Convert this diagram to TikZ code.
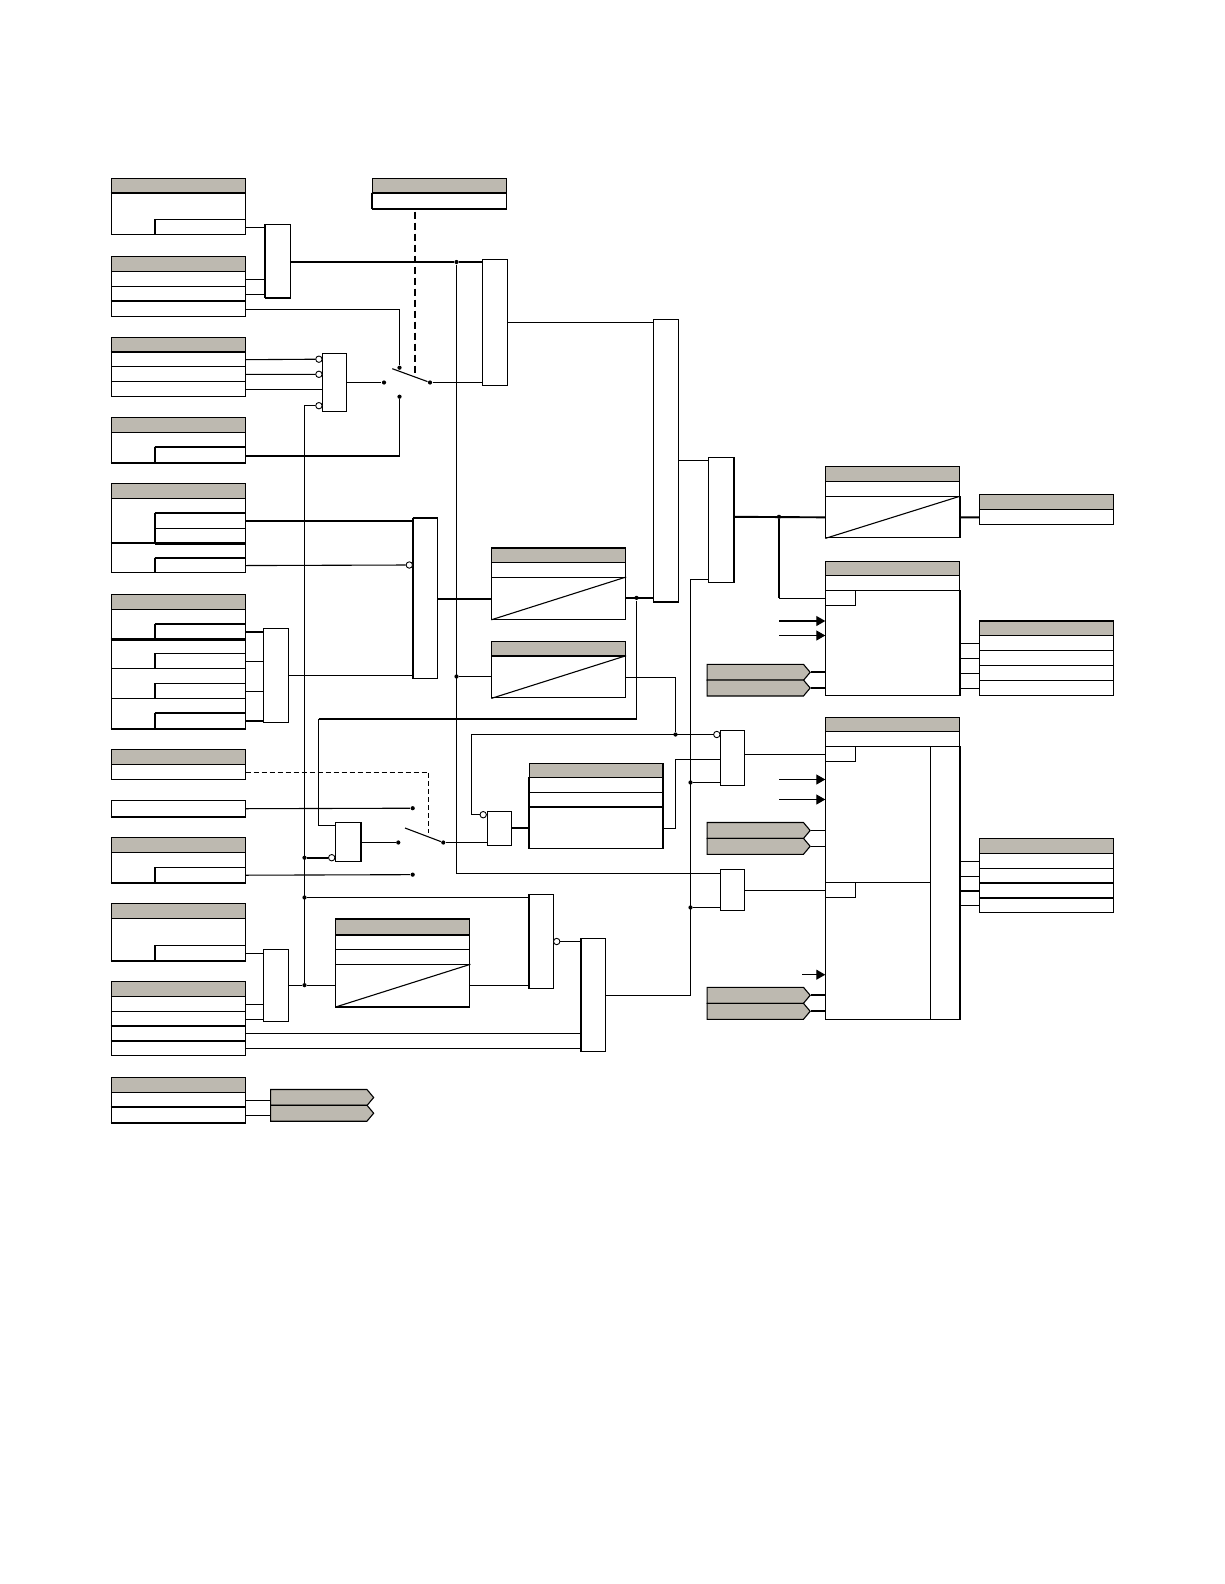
\documentclass[tikz,border=0pt]{standalone}
\usepackage{tikz}
\usetikzlibrary{arrows.meta, shapes.symbols}
\definecolor{hdrgray}{RGB}{189,185,176}

\begin{document}
\begin{tikzpicture}[
    x=1bp, y=-1bp,
    line width=1.1bp,
    cell/.style 2 args={draw, fill=white, anchor=north west, inner sep=0pt, minimum width=#1bp, minimum height=#2bp},
    hdr/.style 2 args={cell={#1}{#2}, fill=hdrgray},
    gate/.style 2 args={cell={#1}{#2}},
    tagbox/.style={draw, fill=hdrgray, shape=signal, signal to=east, signal pointer angle=100, inner sep=0pt, minimum width=103bp, minimum height=16bp},
    dot/.style={circle, fill=black, inner sep=0pt, minimum size=4.2bp},
    bub/.style={circle, draw, fill=white, line width=0.9bp, inner sep=0pt, minimum size=6.4bp},
    thk/.style={line width=1.9bp},
    inarr/.style={-{Triangle[length=9bp,width=10bp]}}
]
\useasboundingbox (0,0) rectangle (1224,1584);

% Left column tables
\node[hdr={134}{14.4}] (t1h) at (110.5,178.3) {};
\node[cell={134}{41.6}] (t1b) at (110.5,192.7) {};
\node[cell={90}{15}] (t1s) at (154.5,219.3) {};

\node[hdr={134}{15}] (t2h) at (110.5,256.3) {};
\node[cell={134}{15}] (t2a) at (110.5,271.3) {};
\node[cell={134}{14.7}] (t2b) at (110.5,286.3) {};
\node[cell={134}{15.3}] (t2c) at (110.5,301) {};

\node[hdr={134}{14.7}] (t3h) at (110.5,337.3) {};
\node[cell={134}{14.3}] (t3a) at (110.5,352) {};
\node[cell={134}{15}] (t3b) at (110.5,366.3) {};
\node[cell={134}{15}] (t3c) at (110.5,381.3) {};

\node[hdr={134}{15}] (t4h) at (110.5,417.3) {};
\node[cell={134}{29.7}] (t4b) at (110.5,432.3) {};
\node[cell={90}{15.3}] (t4s) at (154.5,446.7) {};

\node[hdr={134}{15}] (t5h) at (110.5,483.3) {};
\node[cell={134}{44.4}] (t5b) at (110.5,498.3) {};
\node[cell={90}{15}] (t5s) at (154.5,513.3) {};
\node[cell={90}{14.4}] (t5t) at (154.5,528.3) {};
\node[cell={134}{29.6}] (t5c) at (110.5,542.7) {};
\node[cell={90}{14.6}] (t5u) at (154.5,557.7) {};

\node[hdr={134}{15}] (t6h) at (110.5,594.3) {};
\node[cell={134}{29.7}] (t6a) at (110.5,609.3) {};
\node[cell={90}{15}] (t6p) at (154.5,624) {};
\node[cell={134}{29.3}] (t6b) at (110.5,639) {};
\node[cell={90}{15}] (t6q) at (154.5,653.3) {};
\node[cell={134}{30}] (t6c) at (110.5,668.3) {};
\node[cell={90}{15}] (t6r) at (154.5,683.3) {};
\node[cell={134}{29.4}] (t6d) at (110.5,698.3) {};
\node[cell={90}{14.7}] (t6s) at (154.5,713) {};

\node[hdr={134}{15}] (t7h) at (110.5,749.3) {};
\node[cell={134}{15}] (t7a) at (110.5,764.3) {};

\node[cell={134}{15.7}] (t8a) at (110.5,800.3) {};

\node[hdr={134}{15}] (t9h) at (110.5,837.3) {};
\node[cell={134}{29.7}] (t9b) at (110.5,852.3) {};
\node[cell={90}{14.7}] (t9s) at (154.5,867.3) {};

\node[hdr={134}{15}] (t10h) at (110.5,903.3) {};
\node[cell={134}{41.7}] (t10b) at (110.5,918.3) {};
\node[cell={90}{14.7}] (t10s) at (154.5,945.3) {};

\node[hdr={134}{15}] (t11h) at (110.5,981.3) {};
\node[cell={134}{15}] (t11a) at (110.5,996.3) {};
\node[cell={134}{14.7}] (t11b) at (110.5,1011.3) {};
\node[cell={134}{14.7}] (t11c) at (110.5,1026) {};
\node[cell={134}{14.6}] (t11d) at (110.5,1040.7) {};

\node[hdr={134}{15}] (t12h) at (110.5,1077.3) {};
\node[cell={134}{14.7}] (t12a) at (110.5,1092.3) {};
\node[cell={134}{15}] (t12b) at (110.5,1107) {};

% Middle tables
\node[hdr={134}{14.4}] (t0h) at (371.5,178.3) {};
\node[cell={134}{15.3}] (t0a) at (371.5,192.7) {};

\node[hdr={133.7}{14.6}] (t16h) at (491.3,547.7) {};
\node[cell={133.7}{14.7}] (t16a) at (491.3,562.3) {};
\node[cell={133.7}{41.7}] (t16b) at (491.3,577) {};

\node[hdr={133.7}{14.4}] (t15h) at (491.3,641.3) {};
\node[cell={133.7}{41.6}] (t15b) at (491.3,655.7) {};

\node[hdr={133.7}{14.6}] (t14h) at (528.7,762.7) {};
\node[cell={133.7}{15}] (t14a) at (528.7,777.3) {};
\node[cell={133.7}{14.7}] (t14b) at (528.7,792.3) {};
\node[cell={133.7}{41.3}] (t14c) at (528.7,807) {};

\node[hdr={134}{15.4}] (t13h) at (335.3,919.3) {};
\node[cell={134}{14.6}] (t13a) at (335.3,934.7) {};
\node[cell={134}{15}] (t13b) at (335.3,949.3) {};
\node[cell={134}{41.7}] (t13c) at (335.3,964.3) {};

% Right tables
\node[hdr={133.4}{15}] (t17h) at (825.3,466.3) {};
\node[cell={133.4}{15}] (t17a) at (825.3,481.3) {};
\node[cell={133.4}{41}] (t17b) at (825.3,496.3) {};

\node[hdr={133.7}{15}] (t18h) at (979.3,494.3) {};
\node[cell={133.7}{15}] (t18a) at (979.3,509.3) {};

\node[hdr={133.4}{14.6}] (t19h) at (825.3,560.7) {};
\node[cell={133.4}{15}] (t19a) at (825.3,575.3) {};
\node[cell={133.4}{105}] (t19b) at (825.3,590.3) {};
\node[cell={30}{15}] (t19s) at (825.3,590.3) {};

\node[hdr={133.7}{14.3}] (t20h) at (979.3,621) {};
\node[cell={133.7}{15}] (t20a) at (979.3,635.3) {};
\node[cell={133.7}{15}] (t20b) at (979.3,650.3) {};
\node[cell={133.7}{15}] (t20c) at (979.3,665.3) {};
\node[cell={133.7}{15}] (t20d) at (979.3,680.3) {};

\node[hdr={133.4}{14.6}] (t21h) at (825.3,716.7) {};
\node[cell={133.4}{15}] (t21a) at (825.3,731.3) {};
\node[cell={105}{136}] (t21b) at (825.3,746.3) {};
\node[cell={105}{137}] (t21c) at (825.3,882.3) {};
\node[cell={28.4}{273}] (t21d) at (930.3,746.3) {};
\node[cell={30}{15}] (t21s) at (825.3,746.3) {};
\node[cell={30}{15}] (t21u) at (825.3,882.3) {};

\node[hdr={133.7}{15}] (t22h) at (979.3,838.3) {};
\node[cell={133.7}{15}] (t22a) at (979.3,853.3) {};
\node[cell={133.7}{14.7}] (t22b) at (979.3,868.3) {};
\node[cell={133.7}{14.7}] (t22c) at (979.3,883) {};
\node[cell={133.7}{14.6}] (t22d) at (979.3,897.7) {};

% Gates
\node[gate={25}{72.7}] (g1) at (264.7,224.3) {};
\node[gate={24.4}{126}] (g2) at (482.3,259.3) {};
\node[gate={23.4}{58}] (g3) at (322.3,353.3) {};
\node[gate={24.6}{160.6}] (g4) at (412.7,517.7) {};
\node[gate={24.4}{94.6}] (g5) at (263.3,627.7) {};
\node[gate={25}{39}] (g6) at (335.3,822.3) {};
\node[gate={24.6}{34.3}] (g7) at (486.7,810.7) {};
\node[gate={24.4}{72.6}] (g8) at (263.3,948.7) {};
\node[gate={24.6}{94}] (g9) at (528.7,894.3) {};
\node[gate={24.6}{113}] (g10) at (580.7,938.3) {};
\node[gate={23.4}{55.3}] (g11) at (720.3,729.7) {};
\node[gate={23.4}{41}] (g12) at (720.3,869.3) {};
\node[gate={25}{125}] (g13) at (708.3,457.3) {};
\node[gate={24.4}{281.6}] (g14) at (653.3,319.1) {};

% Tags
\node[tagbox] (tg1) at (318.8,1097.5) {};
\node[tagbox] (tg2) at (318.8,1113.2) {};
\node[tagbox] (tg3) at (755.3,672.3) {};
\node[tagbox] (tg4) at (755.3,688) {};
\node[tagbox] (tg5) at (755.3,830.5) {};
\node[tagbox] (tg6) at (755.3,846.3) {};
\node[tagbox] (tg7) at (755.3,995.3) {};
\node[tagbox] (tg8) at (755.3,1011.3) {};

% Heavier edges
\foreach \n in {t1b,t2c,t3a,t4s,t5s,t5c,t5u,t6p,t6b,t6s,t11c,t11d,t12b,t14c,t15b,t13h,t13a,t16h,t20h,t22c,t22d,t0a,g4}
    \draw[thk] (\n.north west) -- (\n.north east);
\foreach \n in {t4b,t5t,t6a,t6d,t8a,t9b,t10b,t12b,t13c,g1,g14,t0a}
    \draw[thk] (\n.south west) -- (\n.south east);
\foreach \n in {g1,t1s,t4s,t5s,t5t,t5u,t6p,t6q,t6r,t6s,t9s,t10s,g4,g9,g10,t14a,t14b,t14c,t0a}
    \draw[thk] (\n.north west) -- (\n.south west);
\foreach \n in {g13,g6,t21d,t17b,t19b}
    \draw[thk] (\n.north east) -- (\n.south east);

% Diagonals
\draw (t16b.south west) -- (t16b.north east);
\draw (t15b.south west) -- (t15b.north east);
\draw (t13c.south west) -- (t13c.north east);
\draw (t17b.south west) -- (t17b.north east);

% Junctions and switch contacts
\node[dot] (jA) at (456.5,262) {};
\node[dot] (jB) at (456.5,676.5) {};
\node[dot] (jC) at (304.5,857.7) {};
\node[dot] (jD) at (304.5,897.5) {};
\node[dot] (jE) at (304.5,985.15) {};
\node[dot] (jF) at (636.5,597.85) {};
\node[dot] (jG) at (675.5,734.5) {};
\node[dot] (jH) at (690.5,782.5) {};
\node[dot] (jI) at (690.5,907.5) {};
\node[dot] (jJ) at (779,516.8) {};
\node[dot] (sA) at (399.5,367.7) {};
\node[dot] (sB) at (399.5,396.7) {};
\node[dot] (sC) at (384,382.5) {};
\node[dot] (sD) at (430,382.5) {};
\node[dot] (uA) at (412.7,808.2) {};
\node[dot] (uB) at (412.7,874.65) {};
\node[dot] (uC) at (398.3,842.5) {};
\node[dot] (uD) at (443.3,842.5) {};

% Bubbles
\node[bub] (b3a) at (318.9,359.2) {};
\node[bub] (b3b) at (318.9,374.3) {};
\node[bub] (b3c) at (318.9,405.7) {};
\node[bub] (b4) at (409.3,565) {};
\node[bub] (b6) at (331.7,857.7) {};
\node[bub] (b7) at (483.2,814.7) {};
\node[bub] (b9) at (556.7,941.5) {};
\node[bub] (b11) at (716.8,734.5) {};

% Free ends and bends
\coordinate (dd1) at (415,211.7);
\coordinate (dd2) at (415,375);
\coordinate (dd3) at (428.5,833.3);
\coordinate (lev1) at (392.3,368.7);
\coordinate (lev2) at (405,828);
\coordinate (k4) at (399.5,455.7);
\coordinate (k6) at (335.3,825.5);
\coordinate (k6b) at (318.5,718.7);
\coordinate (k7) at (471.5,734.5);
\coordinate (k10) at (675.5,759.5);
\coordinate (k12) at (720.3,873.5);
\coordinate (k13) at (690.5,579.5);
\coordinate (k14) at (708.3,460.5);
\coordinate (k15) at (653.3,322.5);
\coordinate (a1) at (779,621);
\coordinate (a2) at (779,635.5);
\coordinate (a3) at (779,779.5);
\coordinate (a4) at (779,799.5);
\coordinate (a5) at (802.3,974.7);

% Connectors, upper left
\draw (t1s.east) -- (t1s.east -| g1.west);
\draw (t2a.east) -- (t2a.east -| g1.west);
\draw (t2b.east) -- (t2b.east -| g1.west);
\draw[thk] (jA -| g1.east) -- (jA) -- (jA -| g2.west);
\draw[thk, dashed, dash pattern=on 7bp off 4bp] (dd1) -- (dd2);
\draw (t2c.east) -| (sA);
\draw (t3a.east) -- (b3a);
\draw (t3b.east) -- (b3b);
\draw (t3c.east) -- (t3c.east -| g3.west);
\draw (b3c) -| (jE);
\draw (sC -| g3.east) -- (sC);
\draw (lev1) -- (sD);
\draw (sD) -- (sD -| g2.west);
\draw[thk] (k4 -| t4s.east) -- (k4);
\draw (k4) -- (sB);
\draw (k15 -| g2.east) -- (k15);
\draw (jA) |- (k12);
\draw (jB) -- (jB -| t15b.west);

% Connectors, middle
\draw[thk] (t5s.east) -- (t5s.east -| g4.west);
\draw (t5u.east) -- (b4);
\draw[thk] (t6p.east) -- (t6p.east -| g5.west);
\draw (t6q.east) -- (t6q.east -| g5.west);
\draw (t6r.east) -- (t6r.east -| g5.west);
\draw[thk] (t6s.east) -- (t6s.east -| g5.west);
\draw (g5.east) -- (g5.east -| g4.west);
\draw[thk] (g4.east) -- (g4.east -| t16b.west);
\draw[thk] (t16b.east) -- (t16b.east -| g14.west);
\draw[thk] (k6b -| jF) -- (k6b);
\draw (jF) -- (k6b -| jF);
\draw (k6b) |- (k6);
\draw (t15b.east) -| (jG);
\draw[dashed, dash pattern=on 5bp off 3bp] (t7a.east) -| (dd3);
\draw (t8a.east) -- (uA);
\draw (t9s.east) -- (uB);
\draw[thk] (jC) -- (b6);
\draw (uC -| g6.east) -- (uC);
\draw (lev2) -- (uD);
\draw (uD) -- (uD -| g7.west);
\draw (b7) -| (k7) -- (b11);
\draw[thk] (g7.east) -- (g7.east -| t14c.west);
\draw (t14c.east) -| (k10) -- (k10 -| g11.west);
\draw (jD) -- (jD -| g9.west);

% Connectors, lower left
\draw (t10s.east) -- (t10s.east -| g8.west);
\draw (t11a.east) -- (t11a.east -| g8.west);
\draw (t11b.east) -- (t11b.east -| g8.west);
\draw (jE -| g8.east) -- (jE) -- (jE -| t13c.west);
\draw (t13c.east) -- (t13c.east -| g9.west);
\draw (b9) -- (b9 -| g10.west);
\draw (t11c.east) -- (t11c.east -| g10.west);
\draw (t11d.east) -- (t11d.east -| g10.west);
\draw (t12a.east) -- (t12a.east -| tg1.west);
\draw (t12b.east) -- (t12b.east -| tg2.west);

% Connectors, right
\draw (g10.east) -| (k13) -- (k13 -| g13.west);
\draw (jH) -- (jH -| g11.west);
\draw (jI) -- (jI -| g12.west);
\draw (k14 -| g14.east) -- (k14);
\draw[thk] (jJ -| g13.east) -- (t17b.west);
\draw[thk] (t17b.east) -- (t18a.west);
\draw[thk] (jJ) -- (jJ |- t19s.west);
\draw (jJ |- t19s.west) -- (t19s.west);
\draw (t21s.west -| g11.east) -- (t21s.west);
\draw (t21u.west -| g12.east) -- (t21u.west);
\draw[thk] (tg3.east) -- (tg3.east -| t19b.west);
\draw (tg4.east) -- (tg4.east -| t19b.west);
\draw (tg5.east) -- (tg5.east -| t21b.west);
\draw (tg6.east) -- (tg6.east -| t21b.west);
\draw[thk] (tg7.east) -- (tg7.east -| t21c.west);
\draw[thk] (tg8.east) -- (tg8.east -| t21c.west);
\draw[inarr] (a1) -- (a1 -| t19b.west);
\draw[inarr] (a2) -- (a2 -| t19b.west);
\draw[inarr] (a3) -- (a3 -| t21b.west);
\draw[inarr] (a4) -- (a4 -| t21b.west);
\draw[inarr] (a5) -- (a5 -| t21c.west);
\draw (t20a.west) -- (t20a.west -| t19b.east);
\draw (t20b.west) -- (t20b.west -| t19b.east);
\draw (t20c.west) -- (t20c.west -| t19b.east);
\draw (t20d.west) -- (t20d.west -| t19b.east);
\draw (t22a.west) -- (t22a.west -| t21d.east);
\draw (t22b.west) -- (t22b.west -| t21d.east);
\draw[thk] (t22c.west) -- (t22c.west -| t21d.east);
\draw (t22d.west) -- (t22d.west -| t21d.east);

\end{tikzpicture}
\end{document}
